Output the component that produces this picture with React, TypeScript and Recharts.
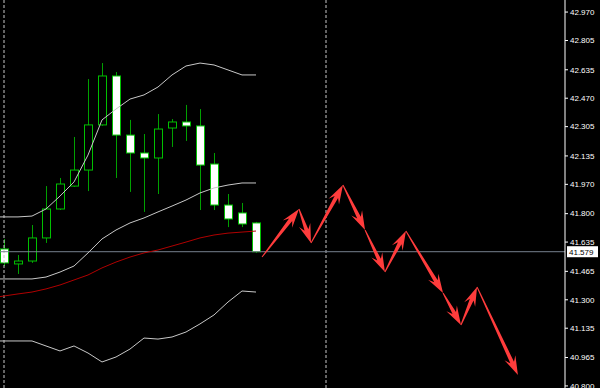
import React from 'react';
import { ComposedChart, Bar, Line, XAxis, YAxis, ReferenceLine } from 'recharts';

// ---- data ----
const candleIndex = [0, 1, 2, 3, 4, 5, 6, 7, 8, 9, 10, 11, 12, 13, 14, 15, 16, 17, 18];
const opens = [41.595, 41.508, 41.525, 41.659, 41.827, 41.96, 42.053, 42.315, 42.599, 42.256, 42.152, 42.123, 42.297, 42.332, 42.309, 42.088, 41.85, 41.804, 41.746];
const closes = [41.514, 41.525, 41.659, 41.827, 41.972, 42.053, 42.315, 42.599, 42.256, 42.152, 42.123, 42.291, 42.332, 42.309, 42.082, 41.85, 41.769, 41.74, 41.579];
const highs = [41.653, 41.56, 41.734, 41.96, 42.007, 42.245, 42.581, 42.674, 42.622, 42.344, 42.262, 42.378, 42.349, 42.431, 42.407, 42.152, 41.914, 41.862, 41.752];
const lows = [41.496, 41.45, 41.514, 41.63, 41.821, 41.955, 41.931, 42.31, 42.007, 41.926, 41.81, 41.914, 42.187, 42.222, 41.821, 41.821, 41.722, 41.722, 41.572];

const bandIndex = [-1, 0, 1, 2, 3, 4, 5, 6, 7, 8, 9, 10, 11, 12, 13, 14, 15, 16, 17, 18];
const upperBand = [41.781, 41.781, 41.781, 41.786, 41.827, 41.902, 41.984, 42.14, 42.344, 42.407, 42.465, 42.489, 42.535, 42.605, 42.657, 42.674, 42.663, 42.634, 42.605, 42.605];
const middleBand = [41.421, 41.421, 41.421, 41.421, 41.432, 41.461, 41.496, 41.572, 41.653, 41.705, 41.746, 41.775, 41.81, 41.844, 41.879, 41.92, 41.949, 41.966, 41.978, 41.978];
const lowerBand = [41.061, 41.061, 41.061, 41.061, 41.032, 41.003, 41.032, 40.991, 40.939, 40.968, 41.014, 41.078, 41.072, 41.084, 41.113, 41.16, 41.212, 41.287, 41.351, 41.345];
const maLine = [41.31, 41.322, 41.334, 41.345, 41.363, 41.386, 41.415, 41.444, 41.485, 41.519, 41.548, 41.572, 41.589, 41.612, 41.635, 41.659, 41.676, 41.687, 41.693, 41.699];

const arrowX = [18.43, 21.07, 21.93, 24.21, 25.79, 27.21, 28.71, 31.36, 32.64, 33.79, 36.71];
const arrowY = [41.548, 41.827, 41.63, 41.966, 41.705, 41.461, 41.699, 41.339, 41.154, 41.374, 40.864];

const priceTicks = [40.8, 40.965, 41.135, 41.3, 41.465, 41.635, 41.8, 41.97, 42.135, 42.305, 42.47, 42.635, 42.805, 42.97];
const bidPrice = 41.579;
const separators = [0, 23];

// ---- tables ----
const rows = bandIndex.map((x, k) => {
  const ci = candleIndex.indexOf(x);
  return {
    x,
    upper: upperBand[k],
    middle: middleBand[k],
    lower: lowerBand[k],
    ma: maLine[k],
    range: ci >= 0 ? [lows[ci], highs[ci]] : null,
    open: ci >= 0 ? opens[ci] : null,
    close: ci >= 0 ? closes[ci] : null,
    high: ci >= 0 ? highs[ci] : null,
    low: ci >= 0 ? lows[ci] : null,
  };
});
const arrowData = arrowX.map((x, k) => ({ x, v: arrowY[k] }));

const FONT = '"Liberation Sans", Arial, sans-serif';

const Candle = (props: any) => {
  const { x, y, width, height, payload } = props;
  if (!payload || payload.open == null || !isFinite(y) || !isFinite(height)) return null;
  const { open, close, high, low } = payload;
  const cx = Math.round(x + width / 2) + 0.5;
  const span = high - low || 1e-9;
  const toY = (v: number) => y + ((high - v) / span) * height;
  const top = toY(Math.max(open, close));
  const bot = toY(Math.min(open, close));
  const bull = close > open;
  return (
    <g>
      <line x1={cx} x2={cx} y1={y} y2={y + height} stroke="#00a000" strokeWidth={1} />
      <rect
        x={cx - 4}
        y={top}
        width={8}
        height={Math.max(bot - top, 1)}
        fill={bull ? '#000000' : '#ffffff'}
        stroke="#00c000"
        strokeWidth={1}
      />
    </g>
  );
};

const arrowCoords: { [k: number]: { x: number; y: number } } = {};
const ArrowDot = (props: any) => {
  const { cx, cy, index } = props;
  arrowCoords[index] = { x: cx, y: cy };
  const p = arrowCoords[index - 1];
  if (index === 0 || !p) return <g key={`ad${index}`} />;
  const dx = cx - p.x;
  const dy = cy - p.y;
  const L = Math.sqrt(dx * dx + dy * dy) || 1;
  const ux = dx / L;
  const uy = dy / L;
  const nx = -uy;
  const ny = ux;
  const headLen = Math.min(19, L * 0.55);
  const notch = headLen * 0.72;
  const headHalf = 6;
  const neckHalf = 2;
  const tailHalf = 0.5;
  const pt = (d: number, w: number) => `${cx - ux * d + nx * w},${cy - uy * d + ny * w}`;
  const pts = [
    `${p.x + nx * tailHalf},${p.y + ny * tailHalf}`,
    pt(notch, neckHalf),
    pt(headLen, headHalf),
    `${cx},${cy}`,
    pt(headLen, -headHalf),
    pt(notch, -neckHalf),
    `${p.x - nx * tailHalf},${p.y - ny * tailHalf}`,
  ].join(' ');
  return <polygon key={`ad${index}`} points={pts} fill="#ff3c3c" />;
};

const BidLabel = (props: any) => {
  const { viewBox } = props;
  if (!viewBox) return null;
  const right = viewBox.x + viewBox.width;
  const yy = viewBox.y;
  return (
    <g>
      <rect x={right + 2} y={yy - 5.5} width={31} height={11} fill="#ffffff" />
      <text x={right + 4} y={yy + 3} fontSize={8} fontFamily={FONT} fill="#000000">
        {bidPrice.toFixed(3)}
      </text>
    </g>
  );
};

export default function App() {
  return (
    <div style={{ position: 'absolute', left: 0, top: 0, width: 600, height: 388, background: '#000000', overflow: 'hidden' }}>
      <ComposedChart width={600} height={388} data={rows} margin={{ top: 0, right: 0, bottom: 0, left: 0 }}>
        <XAxis dataKey="x" type="number" domain={[-4 / 14, 561 / 14]} allowDataOverflow hide />
        <YAxis
          orientation="right"
          width={35}
          type="number"
          domain={[40.788, 43.04]}
          allowDataOverflow
          ticks={priceTicks}
          interval={0}
          tickFormatter={(v: number) => v.toFixed(3)}
          axisLine={{ stroke: '#ffffff' }}
          tickLine={{ stroke: '#ffffff' }}
          tickSize={3}
          tickMargin={2}
          tick={{ fill: '#ffffff', fontSize: 8, fontFamily: FONT, textAnchor: 'start' }}
        />
        {separators.map((s) => (
          <ReferenceLine key={`sep${s}`} x={s} stroke="#c8c8c8" strokeDasharray="3 2" strokeWidth={1} />
        ))}
        <ReferenceLine y={bidPrice} stroke="#77818f" strokeWidth={1} label={<BidLabel />} />
        <Line dataKey="upper" stroke="#c8c8c8" strokeWidth={1} dot={false} activeDot={false} isAnimationActive={false} />
        <Line dataKey="middle" stroke="#c8c8c8" strokeWidth={1} dot={false} activeDot={false} isAnimationActive={false} />
        <Line dataKey="lower" stroke="#c8c8c8" strokeWidth={1} dot={false} activeDot={false} isAnimationActive={false} />
        <Line dataKey="ma" stroke="#b00000" strokeWidth={1} dot={false} activeDot={false} isAnimationActive={false} />
        <Bar dataKey="range" barSize={9} shape={<Candle />} isAnimationActive={false} />
        <Line
          data={arrowData}
          dataKey="v"
          stroke="none"
          strokeWidth={0}
          dot={ArrowDot}
          activeDot={false}
          isAnimationActive={false}
        />
      </ComposedChart>
    </div>
  );
}
